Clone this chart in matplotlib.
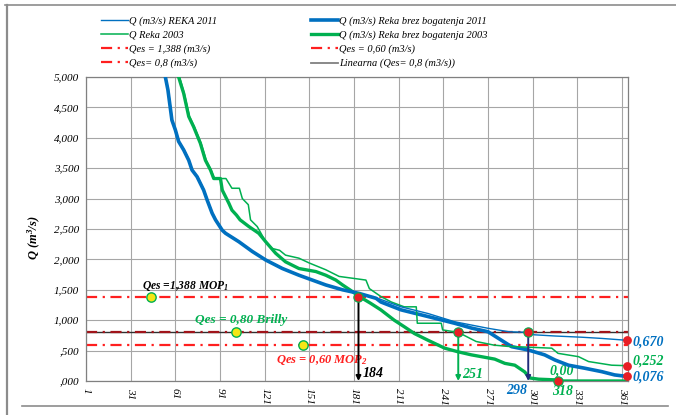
import matplotlib
matplotlib.use("Agg")
import matplotlib.pyplot as plt
from matplotlib.lines import Line2D
import numpy as np

plt.rcParams['font.family'] = ['Liberation Serif', 'DejaVu Serif']
plt.rcParams['mathtext.fontset'] = 'custom'
plt.rcParams['mathtext.rm'] = 'Liberation Serif:italic:bold'
plt.rcParams['mathtext.it'] = 'Liberation Serif:italic:bold'

# ---------------- data ----------------
# Q (m3/s) Reka brez bogatenja 2011 (thick blue)
days_b11 = [1, 15, 30, 42, 50, 54.3, 56, 58.7, 61, 63.2, 66.6, 70, 72.2, 75.6, 80, 82.3, 85.7, 88,
            92.5, 94.7, 103.7, 112.7, 121.7, 132.9, 144, 153, 162, 173.3, 184.5, 195.8, 199, 212.6,
            230.7, 248.5, 260, 271, 280, 286.8, 298, 309, 316, 325, 336, 347.5, 356, 364]
q_b11 = [40, 18, 10, 7, 5.6, 5.0, 4.79, 4.29, 4.13, 3.94, 3.80, 3.63, 3.47, 3.36, 3.14, 2.98, 2.76, 2.65,
         2.48, 2.43, 2.29, 2.13, 1.99, 1.85, 1.74, 1.66, 1.58, 1.50, 1.44, 1.36, 1.30, 1.17,
         1.06, 0.95, 0.87, 0.81, 0.67, 0.565, 0.51, 0.43, 0.345, 0.26, 0.21, 0.153, 0.10, 0.076]

# Q (m3/s) REKA 2011 (thin blue)
days_r11 = [1, 15, 30, 42, 50, 54.5, 56.3, 59, 61.3, 63.5, 67, 70.3, 72.5, 76, 80.3, 82.6, 86, 88.3,
            92.8, 95, 104, 113, 122, 133, 144.3, 153.3, 162.3, 173.5, 184.7, 195.8, 212.6, 230.7,
            248.5, 271, 285, 298, 302, 316, 334, 347.5, 364]
q_r11 = [40, 18, 10, 7, 5.6, 5.0, 4.79, 4.29, 4.13, 3.94, 3.80, 3.63, 3.47, 3.36, 3.14, 2.98, 2.76, 2.65,
         2.48, 2.43, 2.29, 2.13, 1.99, 1.85, 1.74, 1.66, 1.58, 1.50, 1.44, 1.37, 1.22, 1.11,
         0.975, 0.867, 0.81, 0.80, 0.76, 0.74, 0.72, 0.70, 0.670]

# Q (m3/s) Reka brez bogatenja 2003 (thick green)
days_b03 = [1, 15, 30, 45, 55, 63.2, 66.6, 70, 73.3, 77.8, 81.2, 84.6, 86.8, 91.3, 92.5, 97, 99, 102,
            104.5, 110.4, 117, 121.7, 128.4, 135, 144, 155.4, 162, 168.8, 173.3, 180, 184.5, 192, 199,
            208, 214.9, 221.6, 230.7, 241.9, 250.9, 259.8, 268.8, 275.5, 282.3, 289, 295.6, 299, 305,
            315, 318, 364]
q_b03 = [45, 22, 12, 8, 6, 5.0, 4.73, 4.35, 4.18, 3.91, 3.63, 3.47, 3.33, 3.33, 3.14, 2.92, 2.81, 2.73,
         2.65, 2.54, 2.43, 2.29, 2.10, 1.96, 1.85, 1.80, 1.74, 1.66, 1.58, 1.47, 1.39, 1.28, 1.17,
         1.00, 0.89, 0.78, 0.67, 0.54, 0.48, 0.43, 0.39, 0.36, 0.29, 0.26, 0.15, 0.05, 0.03,
         0.02, 0.0, 0.0]

# Q Reka 2003 (thin green)
days_r03 = [1, 15, 30, 45, 55, 63.8, 67, 70.5, 73.8, 78.3, 81.7, 85, 87.2, 95, 99, 104, 106, 110, 111.5,
            116, 121.7, 126, 131, 135, 144, 151, 162, 171, 180, 189, 191.3, 199, 206, 214.7, 222.8,
            223.5, 239.6, 240.5, 251, 263, 275, 284, 313.8, 318, 331.8, 338.5, 354, 364]
q_r03 = [45, 22, 12, 8, 6, 5.0, 4.73, 4.35, 4.18, 3.91, 3.63, 3.47, 3.33, 3.33, 3.17, 3.17, 3.0, 2.9, 2.65,
         2.54, 2.29, 2.18, 2.15, 2.07, 2.02, 1.94, 1.83, 1.72, 1.69, 1.66, 1.52, 1.39, 1.30, 1.22, 1.22,
         0.95, 0.95, 0.84, 0.80, 0.65, 0.59, 0.57, 0.54, 0.455, 0.40, 0.32, 0.26, 0.252]

qes_mop1 = 1.388
qes_mop2 = 0.60
qes_brilly = 0.80

# characteristic points
cross_days = [184, 251, 298]
cross_q = [1.388, 0.80, 0.80]
zero_day = 318
end_day = 364
end_vals = [0.670, 0.252, 0.076]
qes_point_days = [44.5, 101.5, 147]
qes_point_vals = [1.388, 0.80, 0.60]

x_ticks = list(range(1, 362, 30))
y_ticks = [0, 0.5, 1.0, 1.5, 2.0, 2.5, 3.0, 3.5, 4.0, 4.5, 5.0]
y_tick_labels = [',000', ',500', '1,000', '1,500', '2,000', '2,500', '3,000', '3,500',
                 '4,000', '4,500', '5,000']

# ---------------- figure ----------------
W, H = 676, 415
fig = plt.figure(figsize=(W / 100, H / 100), dpi=100)
ax = fig.add_axes([86 / W, 1 - 381 / H, (628 - 86) / W, (381 - 77) / H])

BLUE = '#0070C0'
GREEN = '#00B050'
RED = '#FF1F1F'
DRED = '#A0141A'
NAVY = '#1F2D7A'

ax.set_xlim(1, 365)
ax.set_ylim(0, 5)
ax.set_xticks(x_ticks)
ax.set_xticklabels([str(t) for t in x_ticks], rotation=-90, fontstyle='italic', fontsize=8)
ax.set_yticks(y_ticks)
ax.set_yticklabels(y_tick_labels, fontstyle='italic', fontsize=8)
ax.tick_params(length=0, pad=5)
ax.grid(True, color='#A6A6A6', linewidth=0.8)
ax.set_axisbelow(True)
for s in ax.spines.values():
    s.set_color('#808080')
    s.set_linewidth(0.9)

dd = (0, (5, 2.5, 1, 2.5))
ax.axhline(qes_mop1, color=RED, lw=1.6, ls=dd, zorder=2)
ax.axhline(qes_brilly, color='#303030', lw=1.0, ls='-', zorder=2)
ax.axhline(qes_brilly, color=DRED, lw=1.6, ls=dd, zorder=2.1)
ax.axhline(qes_mop2, color=RED, lw=1.6, ls=dd, zorder=2)

ax.plot(days_b03, q_b03, color=GREEN, lw=2.4, zorder=3)
ax.plot(days_r03, q_r03, color=GREEN, lw=1.1, zorder=3.2)
ax.plot(days_b11, q_b11, color=BLUE, lw=2.6, zorder=3.1)
ax.plot(days_r11, q_r11, color=BLUE, lw=1.0, zorder=3.3)

# vertical arrows
arrow_cols = ['black', GREEN, NAVY]
for d, q, c in zip(cross_days, cross_q, arrow_cols):
    ax.annotate('', xy=(d, 0.0), xytext=(d, q),
                arrowprops=dict(arrowstyle='-|>', color=c, lw=1.4, mutation_scale=7,
                                shrinkA=0, shrinkB=0), zorder=5)

# points
ax.scatter(cross_days, cross_q, s=45, color='#E81E25', edgecolor=GREEN,
           linewidth=0.8, zorder=6, clip_on=False)
ax.scatter([zero_day], [0.0], s=45, color='#E81E25', edgecolor=GREEN, linewidth=0.8,
           zorder=6, clip_on=False)
ax.scatter([end_day] * 3, end_vals, s=28, color='#E81E25', zorder=6, clip_on=False)
ax.scatter(qes_point_days, qes_point_vals, s=45, color='#F5E616', edgecolor=GREEN,
           linewidth=1.0, zorder=6)

# annotations
bi = dict(fontstyle='italic', fontweight='bold')
ax.text(38.5, 1.56, r'Qes =1,388 MOP$_{1}$', color='black', fontsize=8.3, va='center', ha='left', **bi)
ax.text(74.5, 1.01, 'Qes = 0,80 Brilly', color=GREEN, fontsize=9.5, va='center', ha='left', **bi)
ax.text(128.5, 0.345, r'Qes = 0,60 MOP$_{2}$', color=RED, fontsize=9, va='center', ha='left', **bi)
ax.text(187, 0.13, '184', color='black', fontsize=10, va='center', ha='left', **bi)
ax.text(253.5, 0.115, '251', color=GREEN, fontsize=10, va='center', ha='left', **bi)
ax.text(297, -0.15, '298', color=BLUE, fontsize=10, va='center', ha='right', clip_on=False, **bi)
ax.text(313.8, -0.18, '318', color=GREEN, fontsize=10, va='center', ha='left', clip_on=False, **bi)
ax.text(312, 0.17, '0,00', color=GREEN, fontsize=10, va='center', ha='left', **bi)
ax.text(368, 0.646, '0,670', color=BLUE, fontsize=10, va='center', ha='left', clip_on=False, **bi)
ax.text(368, 0.33, '0,252', color=GREEN, fontsize=10, va='center', ha='left', clip_on=False, **bi)
ax.text(368, 0.06, '0,076', color=BLUE, fontsize=10, va='center', ha='left', clip_on=False, **bi)

ax.set_ylabel(r'Q (m$^{3}$/s)', fontsize=9, fontstyle='italic', fontweight='bold')
ax.yaxis.set_label_coords(-0.08, 0.47)

# legend
h1 = [Line2D([], [], color=BLUE, lw=1.0), Line2D([], [], color=GREEN, lw=1.1),
      Line2D([], [], color=RED, lw=1.6, ls=dd), Line2D([], [], color=RED, lw=1.6, ls=dd)]
t1 = ['Q (m3/s) REKA 2011', 'Q Reka 2003', 'Qes = 1,388 (m3/s)', 'Qes= 0,8 (m3/s)']
h2 = [Line2D([], [], color=BLUE, lw=2.6), Line2D([], [], color=GREEN, lw=2.4),
      Line2D([], [], color=RED, lw=1.6, ls=dd), Line2D([], [], color='#808080', lw=1.3)]
t2 = ['Q (m3/s) Reka brez bogatenja 2011', 'Q (m3/s) Reka brez bogatenja 2003',
      'Qes = 0,60 (m3/s)', 'Linearna (Qes= 0,8 (m3/s))']
leg_kw = dict(frameon=False, handlelength=2.6, handletextpad=0.1,
              labelspacing=0.45, borderpad=0, borderaxespad=0,
              prop=dict(family='Liberation Serif', style='italic', size=7.5))
fig.legend(h1, t1, loc='upper left', bbox_to_anchor=(101 / W, 1 - 16 / H), **leg_kw)
fig.legend(h2, t2, loc='upper left', bbox_to_anchor=(311 / W, 1 - 16 / H), **leg_kw)

# outer frame lines
fc = '#8C8C8C'
fig.add_artist(Line2D([5 / W, 1.0], [1 - 5 / H, 1 - 5 / H], color=fc, lw=1.2))
fig.add_artist(Line2D([7 / W, 7 / W], [1 - 5 / H, 0.0], color=fc, lw=1.6))
fig.add_artist(Line2D([22 / W, 668 / W], [1 - 406 / H, 1 - 406 / H], color=fc, lw=1.2))

fig.savefig('out.png', dpi=100)
